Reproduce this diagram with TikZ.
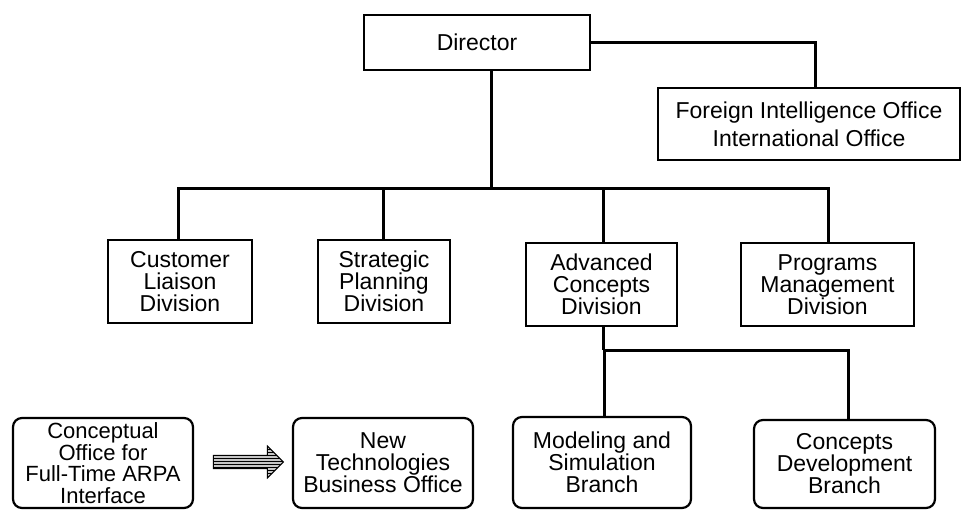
\documentclass[tikz,border=0pt]{standalone}
\usepackage{fontspec}
\setmainfont{Liberation Sans}
\usetikzlibrary{shapes.arrows,patterns}
\begin{document}
\begin{tikzpicture}[x=1pt,y=-1pt,
  box/.style={draw,line width=2.2pt,rectangle,align=center,inner sep=0pt,
    font=\fontsize{23}{22}\selectfont},
  rbox/.style={box,rounded corners=9pt},
  link/.style={line width=3pt}]
\useasboundingbox (0,0) rectangle (963,510);

% top level
\node[box,minimum width=226pt,minimum height=55pt] (dir) at (477,42.5) {Director};
\node[box,minimum width=302pt,minimum height=72pt,font=\fontsize{23}{28}\selectfont]
  (foreign) at (809,124) {Foreign Intelligence Office\\International Office};

% divisions
\node[box,minimum width=144pt,minimum height=83pt] (cust) at (180,281.5) {Customer\\Liaison\\Division};
\node[box,minimum width=132pt,minimum height=83pt] (strat) at (384,281.5) {Strategic\\Planning\\Division};
\node[box,minimum width=151pt,minimum height=83pt] (adv) at (601.5,284.5) {Advanced\\Concepts\\Division};
\node[box,minimum width=173pt,minimum height=83pt] (prog) at (827.5,284.5) {Programs\\Management\\Division};

% offices and branches
\node[rbox,minimum width=180pt,minimum height=90pt,font=\fontsize{22}{21.5}\selectfont]
  (concept) at (103,463) {Conceptual\\Office for\\Full-Time ARPA\\Interface};
\node[rbox,minimum width=180pt,minimum height=90pt] (newtech) at (383,463) {New\\Technologies\\Business Office};
\node[rbox,minimum width=178pt,minimum height=91pt] (model) at (602,462.5) {Modeling and\\Simulation\\Branch};
\node[rbox,minimum width=181pt,minimum height=88pt] (cdev) at (844.5,464) {Concepts\\Development\\Branch};

% transition arrow
\node[single arrow,draw,line width=1pt,preaction={fill=gray!45},pattern=horizontal lines,
  minimum height=70pt,minimum width=32pt,single arrow head extend=9pt,
  inner sep=6pt] (trans) at (245,462) {};

% bus junctions
\coordinate (busA) at (491,189);
\coordinate (busB) at (603,350);

% connectors
\draw[link] (dir.east) -| (foreign.north -| 815,0);
\draw[link] (dir.south -| busA) -- (busA);
\draw[link] (cust.north -| 178,0) |- (busA) -| (prog.north -| 828,0);
\draw[link] (strat.north -| 383,0) -- (383,189);
\draw[link] (adv.north -| 603,0) -- (603,189);
\draw[link] (adv.south -| busB) -- (busB);
\draw[link] (model.north -| 604,0) -- (604,350) -| (cdev.north -| 848,0);
\end{tikzpicture}
\end{document}
